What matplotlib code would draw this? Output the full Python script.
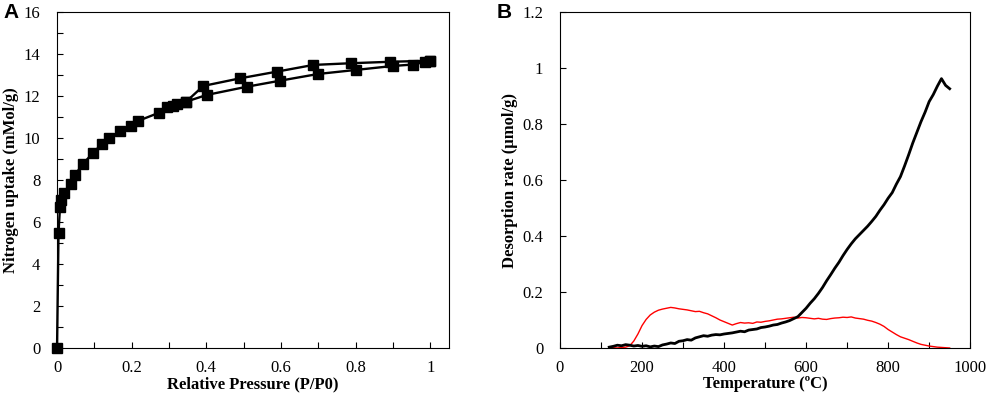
import numpy as np
import matplotlib.pyplot as plt
from matplotlib.ticker import MultipleLocator

plt.rcParams['font.family'] = ['Liberation Serif', 'DejaVu Serif']

# ---- panel A: N2 isotherm ----
p_ads = [0.0, 0.004, 0.008, 0.01, 0.019, 0.037, 0.048, 0.069, 0.097, 0.12, 0.14,
         0.169, 0.198, 0.218, 0.273, 0.294, 0.31, 0.321, 0.346, 0.401, 0.508,
         0.598, 0.70, 0.80, 0.90, 0.955, 0.985, 1.0]
u_ads = [0.0, 5.5, 6.73, 7.05, 7.4, 7.8, 8.24, 8.76, 9.3, 9.71, 10.0,
         10.33, 10.57, 10.82, 11.2, 11.48, 11.52, 11.62, 11.73, 12.05, 12.44,
         12.73, 13.05, 13.24, 13.43, 13.5, 13.62, 13.68]
p_des = [1.0, 0.893, 0.787, 0.687, 0.589, 0.49, 0.392, 0.346]
u_des = [13.68, 13.63, 13.56, 13.48, 13.16, 12.84, 12.48, 11.73]

# ---- panel B: TPD curves, sampled every 10 degC from 120 to 950 ----
temps = np.arange(120, 951, 10)
black_rate = [0.003, 0.006, 0.010, 0.008, 0.012, 0.010, 0.007, 0.009, 0.006, 0.008,
              0.004, 0.007, 0.005, 0.011, 0.014, 0.018, 0.016, 0.024, 0.026, 0.030,
              0.028, 0.036, 0.040, 0.044, 0.042, 0.046, 0.048, 0.047, 0.050, 0.052,
              0.054, 0.057, 0.060, 0.058, 0.064, 0.066, 0.068, 0.073, 0.075, 0.078,
              0.082, 0.084, 0.089, 0.093, 0.098, 0.105, 0.112, 0.127, 0.142, 0.160,
              0.176, 0.195, 0.216, 0.240, 0.262, 0.285, 0.306, 0.330, 0.352, 0.372,
              0.390, 0.405, 0.420, 0.435, 0.452, 0.470, 0.492, 0.512, 0.535, 0.555,
              0.585, 0.612, 0.650, 0.690, 0.732, 0.770, 0.808, 0.842, 0.880, 0.905,
              0.935, 0.962, 0.938, 0.926]
red_rate = [0.000, 0.001, 0.000, 0.002, 0.003, 0.008, 0.025, 0.050, 0.080, 0.102,
            0.118, 0.128, 0.135, 0.139, 0.142, 0.145, 0.143, 0.140, 0.138, 0.136,
            0.133, 0.130, 0.131, 0.126, 0.122, 0.115, 0.108, 0.100, 0.094, 0.088,
            0.082, 0.087, 0.091, 0.089, 0.090, 0.088, 0.093, 0.092, 0.095, 0.097,
            0.100, 0.103, 0.104, 0.106, 0.108, 0.110, 0.107, 0.109, 0.108, 0.106,
            0.104, 0.106, 0.103, 0.102, 0.105, 0.107, 0.108, 0.110, 0.109, 0.111,
            0.107, 0.105, 0.103, 0.099, 0.096, 0.091, 0.085, 0.077, 0.066, 0.057,
            0.048, 0.040, 0.035, 0.030, 0.024, 0.018, 0.013, 0.010, 0.007, 0.005,
            0.003, 0.002, 0.001, 0.000]

fig = plt.figure(figsize=(9.92, 4), dpi=100)
axA = fig.add_axes([0.0575, 0.13, 0.395, 0.84])
axB = fig.add_axes([0.5645, 0.13, 0.4135, 0.84])

axA.plot(p_ads, u_ads, color='black', lw=1.7, marker='s', ms=7, clip_on=False, zorder=3)
axA.plot(p_des, u_des, color='black', lw=1.7, marker='s', ms=7, clip_on=False, zorder=3)
axA.set_xlim(0, 1.05)
axA.set_ylim(0, 16)
axA.set_xticks([0, 0.2, 0.4, 0.6, 0.8, 1])
axA.set_xticklabels(['0', '0.2', '0.4', '0.6', '0.8', '1'])
axA.xaxis.set_minor_locator(MultipleLocator(0.1))
axA.yaxis.set_major_locator(MultipleLocator(2))
axA.yaxis.set_minor_locator(MultipleLocator(1))
axA.set_xlabel('Relative Pressure (P/P0)', fontsize=12, fontweight='bold', labelpad=0)
axA.set_ylabel('Nitrogen uptake (mMol/g)', fontsize=12, fontweight='bold', labelpad=3)

axB.plot(temps, red_rate, color='red', lw=1.0)
axB.plot(temps, black_rate, color='black', lw=2.0)
axB.set_xlim(0, 1000)
axB.set_ylim(0, 1.2)
axB.xaxis.set_major_locator(MultipleLocator(200))
axB.xaxis.set_minor_locator(MultipleLocator(100))
axB.set_yticks([0, 0.2, 0.4, 0.6, 0.8, 1, 1.2])
axB.set_yticklabels(['0', '0.2', '0.4', '0.6', '0.8', '1', '1.2'])
axB.set_xlabel('Temperature (ºC)', fontsize=12, fontweight='bold', labelpad=0)
axB.set_ylabel('Desorption rate (µmol/g)', fontsize=12, fontweight='bold', labelpad=3)

for ax in (axA, axB):
    ax.tick_params(which='both', direction='in', labelsize=12, width=0.8)
    ax.tick_params(which='major', length=4)
    ax.tick_params(axis='x', which='major', pad=9)
    ax.tick_params(axis='y', which='major', pad=12)
    ax.tick_params(which='minor', length=4)
    for s in ax.spines.values():
        s.set_linewidth(0.8)

fig.text(0.004, 0.955, 'A', fontsize=15, fontweight='bold', family='Liberation Sans')
fig.text(0.501, 0.955, 'B', fontsize=15, fontweight='bold', family='Liberation Sans')

fig.savefig('out.png', dpi=100)
